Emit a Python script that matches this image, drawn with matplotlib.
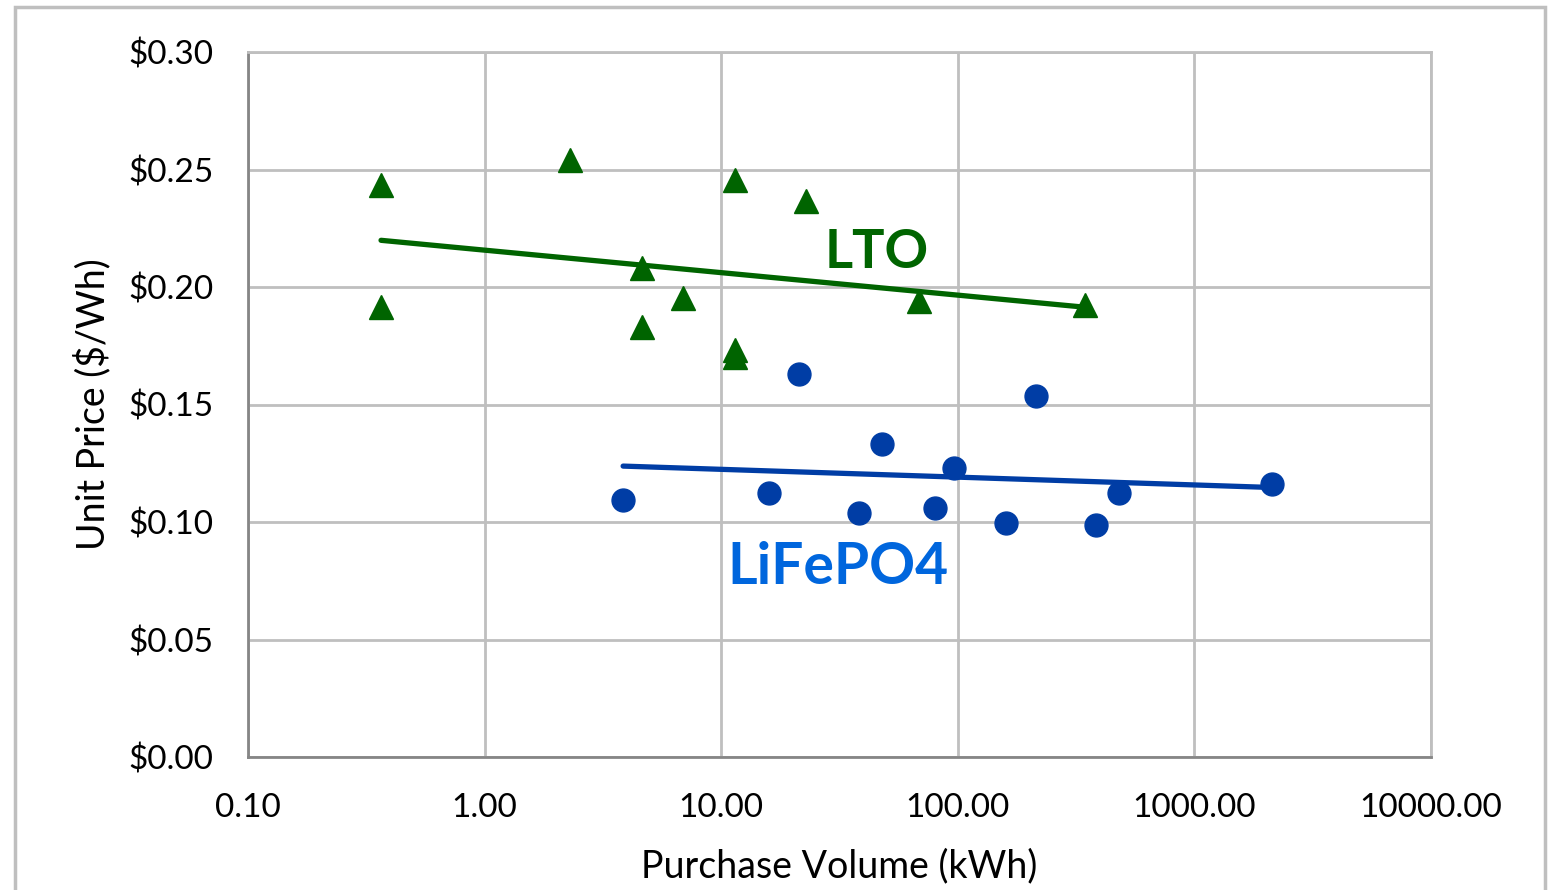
import numpy as np
import matplotlib
matplotlib.use("Agg")
import matplotlib.pyplot as plt
from matplotlib.patches import Rectangle

plt.rcParams['font.family'] = ['Lato', 'DejaVu Sans']

# LTO data (purchase volume kWh, unit price $/Wh)
lto_volume = [0.365, 0.365, 2.30, 4.63, 4.63, 6.9, 11.4, 11.4, 11.4, 22.8, 68.5, 345]
lto_price = [0.2434, 0.1915, 0.254, 0.2081, 0.183, 0.1953, 0.2455, 0.1732, 0.1702, 0.2366, 0.194, 0.1923]

# LiFePO4 data
lfp_volume = [3.85, 15.9, 21.3, 38.2, 47.8, 80.1, 96.4, 160, 214, 384, 480, 2128]
lfp_price = [0.1094, 0.1123, 0.163, 0.1038, 0.1332, 0.106, 0.123, 0.0996, 0.1536, 0.0987, 0.1123, 0.1162]

y_ticks = [0.00, 0.05, 0.10, 0.15, 0.20, 0.25, 0.30]
x_ticks = [0.1, 1, 10, 100, 1000, 10000]

lto_color = '#006400'
lfp_color = '#003DA5'
lfp_text_color = '#0066DD'

fig = plt.figure(figsize=(15.52, 8.90), dpi=100)
fig.patches.append(Rectangle((15/1552, -0.02), (1545-15)/1552, (890-7)/890 + 0.02,
                             transform=fig.transFigure, fill=False, edgecolor='#BFBFBF', linewidth=2.5))
ax = fig.add_axes([248/1552, 1 - 757/890, (1431-248)/1552, (757-52)/890])

ax.set_xscale('log')
ax.set_xlim(0.1, 10000)
ax.set_ylim(0, 0.30)
ax.set_xticks(x_ticks)
ax.set_xticklabels([f"{v:.2f}" for v in x_ticks])
ax.xaxis.set_minor_locator(matplotlib.ticker.NullLocator())
ax.set_yticks(y_ticks)
ax.set_yticklabels([f"${v:.2f}" for v in y_ticks])
ax.tick_params(axis='both', length=0, labelsize=24, colors='black')
ax.tick_params(axis='x', pad=26)
ax.tick_params(axis='y', pad=25)
ax.grid(True, color='#BFBFBF', linewidth=2)
ax.set_axisbelow(True)
for s in ['top', 'right']:
    ax.spines[s].set_color('#BFBFBF')
    ax.spines[s].set_linewidth(2)
for s in ['left', 'bottom']:
    ax.spines[s].set_color('#868686')
    ax.spines[s].set_linewidth(2)

# trendlines (logarithmic fit)
for vol, price, col in [(lto_volume, lto_price, lto_color), (lfp_volume, lfp_price, lfp_color)]:
    lv = np.log(vol)
    a, b = np.polyfit(lv, price, 1)
    xs = np.array([min(vol), max(vol)])
    ax.plot(xs, a * np.log(xs) + b, color=col, linewidth=3.8, solid_capstyle='round', zorder=3)

ax.plot(lto_volume, lto_price, linestyle='none', marker='^', markersize=17, color=lto_color, zorder=4)
ax.plot(lfp_volume, lfp_price, linestyle='none', marker='o', markersize=16.5, color=lfp_color, zorder=4)

ax.text(877/1552, 1 - 252/890, 'LTO', transform=fig.transFigure, ha='center', va='center',
        fontsize=39, fontweight='bold', color=lto_color)
ax.text(838/1552, 1 - 567/890, 'LiFePO4', transform=fig.transFigure, ha='center', va='center',
        fontsize=41, fontweight='bold', color=lfp_text_color)

ax.set_xlabel('Purchase Volume (kWh)', fontsize=27, labelpad=18)
ax.set_ylabel('Unit Price ($/Wh)', fontsize=27, labelpad=12)

fig.savefig('out.png', dpi=100)
